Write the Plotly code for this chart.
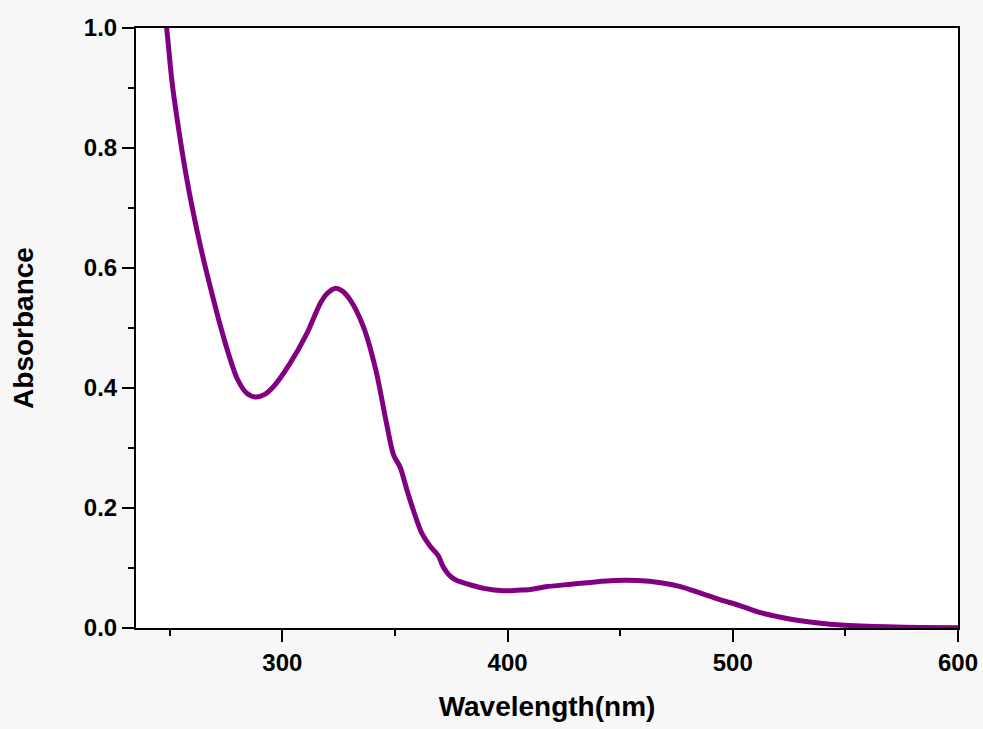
import plotly.graph_objects as go

# UV-Vis absorption spectrum
wavelength_nm = [247.5, 248.6, 251.0, 254.0, 257.0, 260.0, 264.0, 268.0, 272.0, 276.0,
                 280.0, 284.0, 288.0, 292.0, 296.0, 303.4, 310.9, 316.8, 320.0, 323.4,
                 326.5, 330.1, 336.0, 341.5, 346.4, 349.4, 352.3, 355.3, 358.1, 361.9,
                 365.7, 369.3, 371.0, 373.0, 375.0, 377.5, 382.0, 389.4, 398.3, 404.3,
                 410.0, 417.6, 428.0, 436.9, 447.1, 457.5, 468.0, 476.8, 485.7, 494.6,
                 503.4, 512.3, 521.2, 530.1, 539.0, 547.9, 556.8, 568.6, 583.4, 600.0]
absorbance = [1.03, 1.0, 0.91, 0.83, 0.76, 0.70, 0.63, 0.568, 0.51, 0.458,
              0.415, 0.392, 0.385, 0.389, 0.402, 0.441, 0.491, 0.541, 0.558, 0.566,
              0.562, 0.547, 0.502, 0.43, 0.338, 0.288, 0.268, 0.23, 0.197, 0.158,
              0.136, 0.12, 0.105, 0.093, 0.085, 0.079, 0.0735, 0.066, 0.062, 0.063,
              0.064, 0.069, 0.073, 0.076, 0.079, 0.079, 0.0755, 0.069, 0.058, 0.047,
              0.037, 0.0255, 0.018, 0.012, 0.0078, 0.005, 0.0033, 0.002, 0.001, 0.0005]

x_ticks = [300, 400, 500, 600]
y_ticks = [0.0, 0.2, 0.4, 0.6, 0.8, 1.0]

FONT = "Liberation Sans, Arial, sans-serif"

fig = go.Figure()
fig.add_trace(go.Scatter(
    x=wavelength_nm, y=absorbance, mode="lines",
    line=dict(color="#800080", width=5, shape="spline", smoothing=0.8),
    showlegend=False, hoverinfo="x+y",
))

axis_common = dict(
    showgrid=False, zeroline=False, showline=True, linecolor="black", linewidth=2,
    mirror=True, ticks="outside", ticklen=12, tickwidth=2, tickcolor="black",
    automargin=False,
    tickfont=dict(family=FONT, size=24, color="black", weight="bold"),
)

fig.update_xaxes(
    range=[235, 600], tickvals=x_ticks, ticktext=[str(v) for v in x_ticks],
    minor=dict(dtick=50, tick0=250, ticks="outside", ticklen=6, tickwidth=2, tickcolor="black"),
    title=dict(text="Wavelength(nm)", font=dict(family=FONT, size=28, color="black", weight="bold"),
               standoff=22),
    **axis_common,
)
fig.update_yaxes(
    range=[0, 1.0], tickvals=y_ticks, ticktext=[f"{v:.1f}" for v in y_ticks],
    minor=dict(dtick=0.1, tick0=0, ticks="outside", ticklen=6, tickwidth=2, tickcolor="black"),
    title=dict(text="Absorbance", font=dict(family=FONT, size=28, color="black", weight="bold"),
               standoff=42),
    **axis_common,
)

fig.update_layout(
    width=983, height=729,
    margin=dict(l=136, r=25, t=28, b=101),
    paper_bgcolor="#f7f7f7", plot_bgcolor="#ffffff",
)

fig.write_html("out.html")
